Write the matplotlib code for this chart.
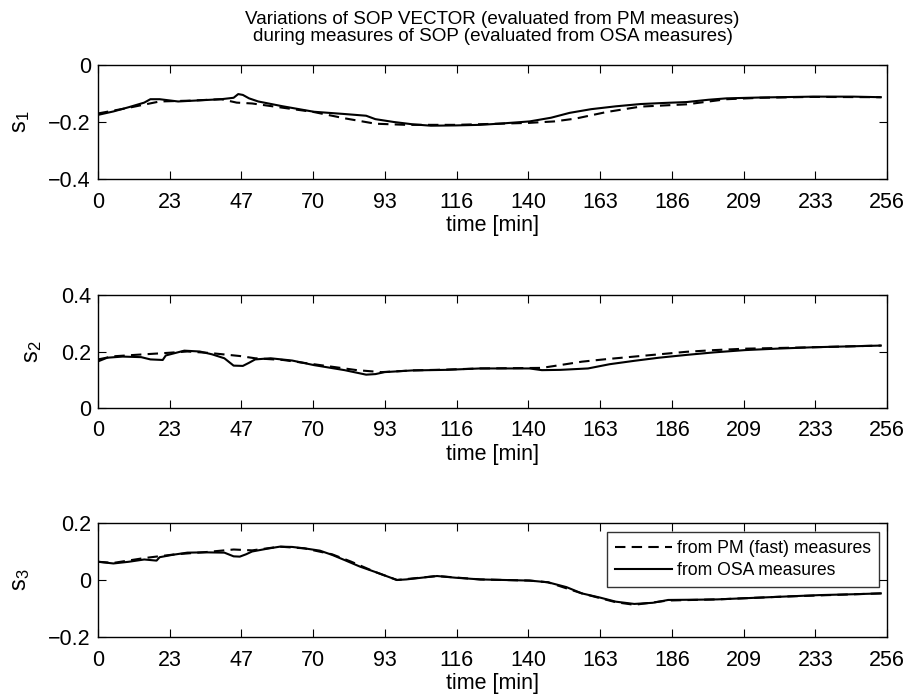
import matplotlib
matplotlib.use("Agg")
import matplotlib.pyplot as plt
import numpy as np

plt.rcParams['font.family'] = ['Liberation Sans', 'DejaVu Sans']

# ---- data ----
s1_osa_t = [0, 5, 10, 15, 17, 20, 26, 33, 40, 44, 45.5, 47, 49, 52, 60, 70, 80, 87, 90, 96, 102, 108, 116, 124,
            130, 140, 147, 153, 160, 168, 176, 184, 191, 198, 204, 215, 232, 245, 254]
s1_osa = [-0.175, -0.163, -0.148, -0.132, -0.12, -0.12, -0.128, -0.124, -0.12, -0.115, -0.102, -0.105, -0.117,
          -0.128, -0.145, -0.164, -0.172, -0.178, -0.19, -0.2, -0.208, -0.213, -0.212, -0.21, -0.206, -0.198,
          -0.185, -0.168, -0.155, -0.145, -0.137, -0.133, -0.13, -0.122, -0.117, -0.114, -0.111, -0.111, -0.113]
s1_pm_t = [0, 10, 20, 30, 40, 45, 50, 60, 70, 80, 90, 100, 116, 130, 140, 148, 155, 165, 176, 191, 204, 215, 232, 254]
s1_pm = [-0.17, -0.15, -0.128, -0.125, -0.12, -0.132, -0.135, -0.15, -0.165, -0.187, -0.206, -0.21, -0.21, -0.206,
         -0.203, -0.198, -0.188, -0.165, -0.146, -0.138, -0.12, -0.115, -0.112, -0.113]

s2_osa_t = [0, 3, 8, 14, 17, 21, 22, 28, 33, 37, 41, 44, 47, 49, 51, 56, 63, 70, 80, 87, 90, 93, 102, 113, 124,
            140, 144, 150, 159, 166, 174, 182, 191, 200, 210, 220, 232, 254]
s2_osa = [0.165, 0.178, 0.182, 0.18, 0.172, 0.17, 0.186, 0.203, 0.2, 0.19, 0.176, 0.15, 0.149, 0.16, 0.172, 0.176,
          0.168, 0.152, 0.134, 0.118, 0.12, 0.127, 0.133, 0.135, 0.14, 0.14, 0.134, 0.135, 0.14, 0.155, 0.167,
          0.178, 0.188, 0.197, 0.205, 0.21, 0.215, 0.221]
s2_pm_t = [0, 5, 12, 21, 29, 36, 46, 51, 60, 70, 84, 92, 102, 113, 124, 144, 150, 157, 165, 174, 182, 191, 200,
           210, 232, 254]
s2_pm = [0.172, 0.183, 0.188, 0.194, 0.2, 0.195, 0.184, 0.176, 0.17, 0.155, 0.134, 0.127, 0.133, 0.136, 0.14,
         0.142, 0.152, 0.164, 0.173, 0.182, 0.19, 0.199, 0.205, 0.21, 0.215, 0.221]

s3_osa_t = [0, 5, 10, 15, 19, 20, 24, 29, 35, 41, 44, 46, 48, 50, 55, 59, 63, 67, 72, 76, 80, 85, 90, 97, 100,
            105, 110, 116, 124, 140, 146, 152, 157, 163, 168, 174, 180, 185, 195, 201, 212, 223, 234, 245, 254]
s3_osa = [0.064, 0.058, 0.064, 0.072, 0.068, 0.08, 0.088, 0.096, 0.097, 0.096, 0.083, 0.082, 0.09, 0.1, 0.11,
          0.117, 0.116, 0.111, 0.103, 0.088, 0.07, 0.047, 0.028, 0.0, 0.002, 0.008, 0.014, 0.008, 0.002, -0.002,
          -0.008, -0.025, -0.047, -0.062, -0.076, -0.084, -0.08, -0.07, -0.069, -0.068, -0.063, -0.058, -0.053,
          -0.05, -0.047]
s3_pm_t = [0, 5, 15, 25, 35, 40, 44, 50, 59, 67, 76, 82, 90, 97, 110, 124, 140, 146, 157, 168, 174, 185, 201,
           223, 254]
s3_pm = [0.064, 0.06, 0.077, 0.09, 0.098, 0.103, 0.107, 0.104, 0.117, 0.111, 0.09, 0.065, 0.028, 0.0, 0.014,
         0.002, -0.002, -0.008, -0.047, -0.078, -0.087, -0.072, -0.068, -0.058, -0.047]

x_ticks = list(np.linspace(0, 256, 12))
x_ticklabels = ['0', '23', '47', '70', '93', '116', '140', '163', '186', '209', '233', '256']
y_ticks = [[-0.4, -0.2, 0], [0, 0.2, 0.4], [-0.2, 0, 0.2]]
y_ticklabels = [['\u22120.4', '\u22120.2', '0'], ['0', '0.2', '0.4'], ['\u22120.2', '0', '0.2']]
y_labels = [r'$\mathregular{s_1}$', r'$\mathregular{s_2}$', r'$\mathregular{s_3}$']
title_text = "Variations of SOP VECTOR (evaluated from PM measures)\nduring measures of SOP (evaluated from OSA measures)"
legend_labels = ['from PM (fast) measures', 'from OSA measures']

series = [(s1_pm_t, s1_pm, s1_osa_t, s1_osa),
          (s2_pm_t, s2_pm, s2_osa_t, s2_osa),
          (s3_pm_t, s3_pm, s3_osa_t, s3_osa)]

W, H = 912, 695
fig = plt.figure(figsize=(W / 100, H / 100), dpi=100)
boxes = [(65, 179), (295, 408), (523, 637)]
left, right = 98, 887

axes = []
for i, (top, bot) in enumerate(boxes):
    ax = fig.add_axes([left / W, 1 - bot / H, (right - left) / W, (bot - top) / H])
    pt, pv, ot, ov = series[i]
    ax.plot(pt, pv, color='black', lw=1.5, linestyle=(0, (5, 3)), label=legend_labels[0])
    ax.plot(ot, ov, color='black', lw=1.5, linestyle='-', label=legend_labels[1])
    ax.set_xlim(0, 256)
    ax.set_ylim(y_ticks[i][0], y_ticks[i][-1])
    ax.set_xticks(x_ticks)
    ax.set_xticklabels(x_ticklabels)
    ax.set_yticks(y_ticks[i])
    ax.set_yticklabels(y_ticklabels[i])
    ax.tick_params(direction='in', top=True, right=True, length=6, width=0.8, labelsize=15.5)
    ax.tick_params(axis='x', pad=9)
    ax.tick_params(axis='y', pad=5)
    for sp in ax.spines.values():
        sp.set_linewidth(1.0)
    ax.set_xlabel('time [min]', fontsize=15.5, labelpad=2)
    ax.set_ylabel(y_labels[i], fontsize=17, labelpad=12)
    axes.append(ax)

fig.text((left + right) / 2 / W, 1 - 28 / H, title_text, fontsize=13.6, ha='center', va='center',
         linespacing=1.05)

leg = axes[2].legend(loc='upper right', fontsize=12.7, frameon=True, fancybox=False, edgecolor='black',
                     handlelength=3.2, handletextpad=0.3, borderpad=0.45, labelspacing=0.3,
                     borderaxespad=0, bbox_to_anchor=(1 - 8 / (right - left), 1 - 9 / 114))
leg.get_frame().set_linewidth(1.0)

fig.savefig('out.png', dpi=100)
